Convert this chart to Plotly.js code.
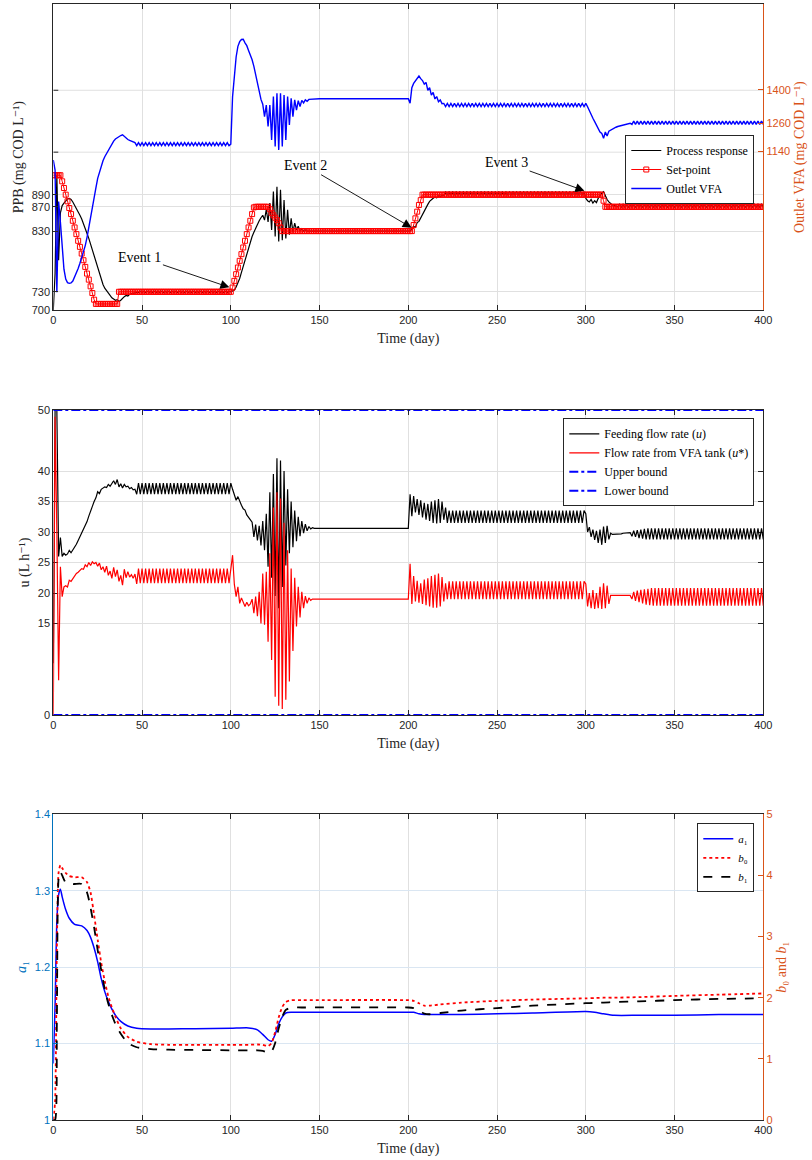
<!DOCTYPE html>
<html><head><meta charset="utf-8">
<script src="https://cdn.plot.ly/plotly-3.0.1.min.js"></script>
<style>html,body{margin:0;padding:0;background:#fff;} #chart{width:812px;height:1160px;}</style>
</head><body><div id="chart"></div>
<script>
// ---------------- DATA (daily samples, t = 0..400 day) ----------------
var xTickVals = [0, 50, 100, 150, 200, 250, 300, 350, 400];
var ppbTickVals = [700, 730, 830, 870, 890];
var ppbExtraGrid = [960, 1062];

// Panel 1: process response (PPB, left axis)
var ppbResp = [
700, 760, 922, 782, 860, 872, 876, 880, 883, 884,
882, 878, 873, 867, 861, 856, 850, 843, 836, 826,
818, 808, 798, 788, 779, 768, 759, 750, 742, 736,
732, 727, 724, 720, 718, 716, 717, 714, 716, 720,
722, 724, 723, 726, 727, 727, 728, 729, 729, 731,
729, 731, 729, 731, 729, 731, 729, 731, 729, 731,
729, 731, 729, 731, 729, 731, 729, 731, 729, 731,
729, 731, 729, 731, 729, 731, 729, 731, 729, 731,
729, 731, 729, 731, 729, 731, 729, 731, 729, 731,
729, 731, 729, 731, 729, 731, 729, 731, 729, 731,
730, 731, 733, 738, 744, 752, 762, 772, 783, 794,
805, 814, 821, 828, 835, 840, 847, 852, 856, 848,
866, 845, 876, 832, 895, 821, 903, 813, 898, 815,
881, 818, 865, 824, 851, 828, 843, 832, 838, 830,
834, 830, 832, 830, 830, 830, 830, 830, 830, 830,
830, 830, 830, 830, 830, 830, 830, 830, 830, 830,
830, 830, 830, 830, 830, 830, 830, 830, 830, 830,
830, 830, 830, 830, 830, 830, 830, 830, 830, 830,
830, 830, 830, 830, 830, 830, 830, 830, 830, 830,
830, 830, 830, 830, 830, 830, 830, 830, 830, 830,
830, 830, 834, 838, 836, 844, 846, 852, 856, 862,
868, 874, 879, 882, 884, 886, 885, 888, 887, 889,
889, 895, 889, 895, 889, 895, 889, 895, 889, 895,
889, 895, 889, 895, 889, 895, 889, 895, 889, 895,
889, 895, 889, 895, 889, 895, 889, 895, 889, 895,
889, 895, 889, 895, 889, 895, 889, 895, 889, 895,
889, 895, 889, 895, 889, 895, 889, 895, 889, 895,
889, 895, 889, 895, 889, 895, 889, 895, 889, 895,
889, 895, 889, 895, 889, 895, 889, 895, 889, 895,
889, 895, 889, 895, 889, 895, 889, 895, 889, 895,
884, 880, 878, 882, 876, 880, 877, 884, 889, 893,
895, 888, 882, 878, 875, 873, 872, 871, 870, 875,
869, 875, 869, 875, 869, 875, 869, 875, 869, 875,
869, 875, 869, 875, 869, 875, 869, 875, 869, 875,
869, 875, 869, 875, 869, 875, 869, 875, 869, 875,
869, 875, 869, 875, 869, 875, 869, 875, 869, 875,
869, 875, 869, 875, 869, 875, 869, 875, 869, 875,
869, 875, 869, 875, 869, 875, 869, 875, 869, 875,
869, 875, 869, 875, 869, 875, 869, 875, 869, 875,
869, 875, 869, 875, 869, 875, 869, 875, 869, 875,
869];

// Panel 1: set-point (PPB, left axis)
var ppbSet = [
922, 922, 922, 922, 922, 912, 901, 890, 879, 868,
858, 847, 836, 825, 814, 804, 793, 782, 771, 760,
750, 739, 728, 717, 710, 710, 710, 710, 710, 710,
710, 710, 710, 710, 710, 710, 710, 730, 730, 730,
730, 730, 730, 730, 730, 730, 730, 730, 730, 730,
730, 730, 730, 730, 730, 730, 730, 730, 730, 730,
730, 730, 730, 730, 730, 730, 730, 730, 730, 730,
730, 730, 730, 730, 730, 730, 730, 730, 730, 730,
730, 730, 730, 730, 730, 730, 730, 730, 730, 730,
730, 730, 730, 730, 730, 730, 730, 730, 730, 730,
730, 737, 748, 759, 770, 781, 792, 803, 814, 825,
836, 847, 858, 869, 870, 870, 870, 870, 870, 870,
870, 870, 866, 860, 856, 852, 848, 843, 836, 830,
830, 830, 830, 830, 830, 830, 830, 830, 830, 830,
830, 830, 830, 830, 830, 830, 830, 830, 830, 830,
830, 830, 830, 830, 830, 830, 830, 830, 830, 830,
830, 830, 830, 830, 830, 830, 830, 830, 830, 830,
830, 830, 830, 830, 830, 830, 830, 830, 830, 830,
830, 830, 830, 830, 830, 830, 830, 830, 830, 830,
830, 830, 830, 830, 830, 830, 830, 830, 830, 830,
830, 830, 830, 840, 851, 862, 873, 881, 890, 890,
890, 890, 890, 890, 890, 890, 890, 890, 890, 890,
890, 890, 890, 890, 890, 890, 890, 890, 890, 890,
890, 890, 890, 890, 890, 890, 890, 890, 890, 890,
890, 890, 890, 890, 890, 890, 890, 890, 890, 890,
890, 890, 890, 890, 890, 890, 890, 890, 890, 890,
890, 890, 890, 890, 890, 890, 890, 890, 890, 890,
890, 890, 890, 890, 890, 890, 890, 890, 890, 890,
890, 890, 890, 890, 890, 890, 890, 890, 890, 890,
890, 890, 890, 890, 890, 890, 890, 890, 890, 890,
890, 890, 890, 890, 890, 890, 890, 890, 890, 890,
880, 870, 870, 870, 870, 870, 870, 870, 870, 870,
870, 870, 870, 870, 870, 870, 870, 870, 870, 870,
870, 870, 870, 870, 870, 870, 870, 870, 870, 870,
870, 870, 870, 870, 870, 870, 870, 870, 870, 870,
870, 870, 870, 870, 870, 870, 870, 870, 870, 870,
870, 870, 870, 870, 870, 870, 870, 870, 870, 870,
870, 870, 870, 870, 870, 870, 870, 870, 870, 870,
870, 870, 870, 870, 870, 870, 870, 870, 870, 870,
870, 870, 870, 870, 870, 870, 870, 870, 870, 870,
870];

// Panel 1: outlet VFA (mg COD/L, right axis)
var outletVfa = [
1103, 1060, 542, 927, 840, 730, 640, 598, 583, 580,
582, 590, 606, 622, 643, 665, 688, 713, 740, 775,
820, 862, 900, 940, 985, 1025, 1052, 1075, 1100, 1117,
1130, 1145, 1160, 1172, 1183, 1192, 1198, 1203, 1207, 1210,
1202, 1195, 1190, 1186, 1183, 1180, 1177, 1164, 1177, 1164,
1177, 1164, 1177, 1164, 1177, 1164, 1177, 1164, 1177, 1164,
1177, 1164, 1177, 1164, 1177, 1164, 1177, 1164, 1177, 1164,
1177, 1164, 1177, 1164, 1177, 1164, 1177, 1164, 1177, 1164,
1177, 1164, 1177, 1164, 1177, 1164, 1177, 1164, 1177, 1164,
1177, 1164, 1177, 1164, 1177, 1164, 1177, 1164, 1177, 1164,
1170, 1372, 1470, 1540, 1585, 1605, 1614, 1615, 1600, 1588,
1568, 1550, 1528, 1500, 1465, 1420, 1396, 1360, 1340, 1287,
1336, 1245, 1336, 1188, 1372, 1160, 1386, 1146, 1386, 1160,
1379, 1188, 1372, 1252, 1365, 1287, 1358, 1315, 1355, 1330,
1356, 1345, 1358, 1352, 1360, 1361, 1362, 1363, 1363, 1363,
1363, 1363, 1363, 1363, 1363, 1363, 1363, 1363, 1363, 1363,
1363, 1363, 1363, 1363, 1363, 1363, 1363, 1363, 1363, 1363,
1363, 1363, 1363, 1363, 1363, 1363, 1363, 1363, 1363, 1363,
1363, 1363, 1363, 1363, 1363, 1363, 1363, 1363, 1363, 1363,
1363, 1363, 1363, 1363, 1363, 1363, 1363, 1363, 1363, 1363,
1363, 1344, 1410, 1428, 1440, 1452, 1459, 1448, 1440, 1425,
1432, 1398, 1410, 1378, 1390, 1362, 1372, 1350, 1358, 1342,
1343, 1330, 1343, 1330, 1343, 1330, 1343, 1330, 1343, 1330,
1343, 1330, 1343, 1330, 1343, 1330, 1343, 1330, 1343, 1330,
1343, 1330, 1343, 1330, 1343, 1330, 1343, 1330, 1343, 1330,
1343, 1330, 1343, 1330, 1343, 1330, 1343, 1330, 1343, 1330,
1343, 1330, 1343, 1330, 1343, 1330, 1343, 1330, 1343, 1330,
1343, 1330, 1343, 1330, 1343, 1330, 1343, 1330, 1343, 1330,
1343, 1330, 1343, 1330, 1343, 1330, 1343, 1330, 1343, 1330,
1343, 1330, 1343, 1330, 1343, 1330, 1343, 1330, 1343, 1330,
1343, 1329, 1310, 1294, 1280, 1266, 1250, 1238, 1222, 1216,
1195, 1222, 1205, 1225, 1230, 1234, 1238, 1242, 1245, 1247,
1250, 1252, 1254, 1256, 1258, 1259, 1254, 1268, 1254, 1268,
1254, 1268, 1254, 1268, 1254, 1268, 1254, 1268, 1254, 1268,
1254, 1268, 1254, 1268, 1254, 1268, 1254, 1268, 1254, 1268,
1254, 1268, 1254, 1268, 1254, 1268, 1254, 1268, 1254, 1268,
1254, 1268, 1254, 1268, 1254, 1268, 1254, 1268, 1254, 1268,
1254, 1268, 1254, 1268, 1254, 1268, 1254, 1268, 1254, 1268,
1254, 1268, 1254, 1268, 1254, 1268, 1254, 1268, 1254, 1268,
1254, 1268, 1254, 1268, 1254, 1268, 1254, 1268, 1254, 1268,
1254];

// Panel 2: feeding flow rate u (L/h)
var uFeed = [
8.5, 50, 50, 26.0, 29.1, 26.0, 26.5, 26.2, 26.4, 27.0,
26.6, 27.0, 27.5, 28.0, 28.6, 29.2, 29.9, 30.6, 31.0, 31.7,
32.6, 33.6, 34.2, 35.0, 35.6, 36.6, 36.3, 37.0, 37.2, 37.4,
37.3, 37.8, 37.5, 37.9, 38.4, 37.8, 38.6, 37.4, 37.9, 37.2,
37.8, 37.4, 37.5, 37.1, 37.3, 36.9, 37.0, 36.2, 38.0, 36.2,
38.0, 36.2, 38.0, 36.2, 38.0, 36.2, 38.0, 36.2, 38.0, 36.2,
38.0, 36.2, 38.0, 36.2, 38.0, 36.2, 38.0, 36.2, 38.0, 36.2,
38.0, 36.2, 38.0, 36.2, 38.0, 36.2, 38.0, 36.2, 38.0, 36.2,
38.0, 36.2, 38.0, 36.2, 38.0, 36.2, 38.0, 36.2, 38.0, 36.2,
38.0, 36.2, 38.0, 36.2, 38.0, 36.2, 38.0, 36.2, 38.0, 36.2,
38.0, 37.0, 36.0, 35.2, 35.8, 35.0, 34.4, 33.8, 33.6, 32.8,
32.4, 32.2, 31.6, 29.2, 31.2, 28.6, 31.0, 27.8, 31.8, 27.0,
33.0, 24.3, 36.5, 22.5, 39.5, 19.5, 42.1, 17.5, 41.7, 21.0,
40.0, 24.5, 37.0, 26.5, 35.0, 27.5, 33.5, 28.5, 32.5, 29.3,
31.8, 29.8, 31.3, 30.2, 30.9, 30.5, 30.7, 30.6, 30.6, 30.6,
30.6, 30.6, 30.6, 30.6, 30.6, 30.6, 30.6, 30.6, 30.6, 30.6,
30.6, 30.6, 30.6, 30.6, 30.6, 30.6, 30.6, 30.6, 30.6, 30.6,
30.6, 30.6, 30.6, 30.6, 30.6, 30.6, 30.6, 30.6, 30.6, 30.6,
30.6, 30.6, 30.6, 30.6, 30.6, 30.6, 30.6, 30.6, 30.6, 30.6,
30.6, 30.6, 30.6, 30.6, 30.6, 30.6, 30.6, 30.6, 30.6, 30.6,
30.6, 36.2, 32.6, 35.9, 33.2, 35.4, 32.8, 35.2, 32.4, 34.8,
32.0, 34.6, 31.8, 35.0, 31.5, 35.2, 31.4, 35.4, 31.5, 35.0,
32.0, 34.0, 31.5, 33.5, 31.5, 33.5, 31.5, 33.5, 31.5, 33.5,
31.5, 33.5, 31.5, 33.5, 31.5, 33.5, 31.5, 33.5, 31.5, 33.5,
31.5, 33.5, 31.5, 33.5, 31.5, 33.5, 31.5, 33.5, 31.5, 33.5,
31.5, 33.5, 31.5, 33.5, 31.5, 33.5, 31.5, 33.5, 31.5, 33.5,
31.5, 33.5, 31.5, 33.5, 31.5, 33.5, 31.5, 33.5, 31.5, 33.5,
31.5, 33.5, 31.5, 33.5, 31.5, 33.5, 31.5, 33.5, 31.5, 33.5,
31.5, 33.5, 31.5, 33.5, 31.5, 33.5, 31.5, 33.5, 31.5, 33.5,
31.5, 33.5, 31.5, 33.5, 31.5, 33.5, 31.5, 33.5, 31.5, 33.5,
33.0, 30.0, 30.8, 29.2, 30.4, 28.7, 30.2, 28.2, 30.4, 27.9,
30.9, 28.2, 31.0, 28.8, 29.8, 29.6, 29.6, 29.6, 29.7, 29.7,
29.7, 29.8, 29.8, 29.8, 29.9, 29.9, 29.3, 30.2, 29.2, 30.3,
29.0, 30.4, 28.9, 30.5, 28.8, 30.6, 28.8, 30.6, 28.8, 30.6,
28.8, 30.6, 28.8, 30.6, 28.8, 30.6, 28.8, 30.6, 28.8, 30.6,
28.8, 30.6, 28.8, 30.6, 28.8, 30.6, 28.8, 30.6, 28.8, 30.6,
28.8, 30.6, 28.8, 30.6, 28.8, 30.6, 28.8, 30.6, 28.8, 30.6,
28.8, 30.6, 28.8, 30.6, 28.8, 30.6, 28.8, 30.6, 28.8, 30.6,
28.8, 30.6, 28.8, 30.6, 28.8, 30.6, 28.8, 30.6, 28.8, 30.6,
28.8, 30.6, 28.8, 30.6, 28.8, 30.6, 28.8, 30.6, 28.8, 30.6,
28.8];

// Panel 2: flow rate from VFA tank u* (L/h)
var uVfaTank = [
0, 48.9, 30, 5.7, 24.3, 19.4, 21.0, 21.2, 21.0, 22.1,
21.9, 22.4, 22.8, 23.2, 23.4, 23.8, 24.0, 23.9, 24.6, 24.3,
25.0, 24.5, 25.1, 24.8, 25.0, 24.4, 24.9, 23.8, 24.3, 23.4,
24.4, 22.9, 23.6, 22.4, 24.2, 22.7, 23.8, 21.9, 22.9, 21.3,
23.9, 22.5, 23.5, 22.6, 23.0, 22.4, 23.1, 21.5, 24.0, 21.6,
24.0, 21.6, 24.0, 21.6, 24.0, 21.6, 24.0, 21.6, 24.0, 21.6,
24.0, 21.6, 24.0, 21.6, 24.0, 21.6, 24.0, 21.6, 24.0, 21.6,
24.0, 21.6, 24.0, 21.6, 24.0, 21.6, 24.0, 21.6, 24.0, 21.6,
24.0, 21.6, 24.0, 21.6, 24.0, 21.6, 24.0, 21.6, 24.0, 21.6,
24.0, 21.6, 24.0, 21.6, 24.0, 21.6, 24.0, 21.6, 24.0, 21.6,
24.0, 26.2, 21.4, 19.4, 21.0, 18.3, 19.2, 18.4, 17.8, 18.5,
17.9, 18.2, 19.0, 16.7, 19.4, 16.2, 20.2, 15.0, 23.2, 14.8,
23.5, 12.0, 26.5, 9.0, 34.0, 3.0, 36.5, 1.5, 35.5, 1.0,
31.5, 2.5, 27.0, 5.5, 24.0, 10.5, 22.5, 14.5, 21.0, 16.0,
20.2, 17.5, 19.5, 18.3, 19.2, 18.8, 19.0, 19.0, 19.0, 19.0,
19.0, 19.0, 19.0, 19.0, 19.0, 19.0, 19.0, 19.0, 19.0, 19.0,
19.0, 19.0, 19.0, 19.0, 19.0, 19.0, 19.0, 19.0, 19.0, 19.0,
19.0, 19.0, 19.0, 19.0, 19.0, 19.0, 19.0, 19.0, 19.0, 19.0,
19.0, 19.0, 19.0, 19.0, 19.0, 19.0, 19.0, 19.0, 19.0, 19.0,
19.0, 19.0, 19.0, 19.0, 19.0, 19.0, 19.0, 19.0, 19.0, 19.0,
19.0, 24.8, 18.2, 22.8, 18.6, 22.0, 18.4, 21.6, 18.2, 22.2,
18.0, 22.4, 17.8, 22.8, 17.6, 23.0, 17.6, 23.2, 17.8, 22.6,
18.6, 21.6, 19.0, 21.9, 19.0, 21.9, 19.0, 21.9, 19.0, 21.9,
19.0, 21.9, 19.0, 21.9, 19.0, 21.9, 19.0, 21.9, 19.0, 21.9,
19.0, 21.9, 19.0, 21.9, 19.0, 21.9, 19.0, 21.9, 19.0, 21.9,
19.0, 21.9, 19.0, 21.9, 19.0, 21.9, 19.0, 21.9, 19.0, 21.9,
19.0, 21.9, 19.0, 21.9, 19.0, 21.9, 19.0, 21.9, 19.0, 21.9,
19.0, 21.9, 19.0, 21.9, 19.0, 21.9, 19.0, 21.9, 19.0, 21.9,
19.0, 21.9, 19.0, 21.9, 19.0, 21.9, 19.0, 21.9, 19.0, 21.9,
19.0, 21.9, 19.0, 21.9, 19.0, 21.9, 19.0, 21.9, 19.0, 21.9,
21.5, 17.8, 20.0, 17.5, 20.5, 17.4, 20.0, 17.5, 21.0, 17.4,
21.6, 17.5, 21.2, 18.2, 19.6, 19.6, 19.6, 19.6, 19.6, 19.6,
19.6, 19.6, 19.6, 19.6, 19.6, 19.6, 19.0, 20.2, 18.7, 20.4,
18.5, 20.5, 18.3, 20.6, 18.1, 20.7, 18.0, 20.8, 17.9, 20.8,
17.9, 20.8, 17.9, 20.8, 17.9, 20.8, 17.9, 20.8, 17.9, 20.8,
17.9, 20.8, 17.9, 20.8, 17.9, 20.8, 17.9, 20.8, 17.9, 20.8,
17.9, 20.8, 17.9, 20.8, 17.9, 20.8, 17.9, 20.8, 17.9, 20.8,
17.9, 20.8, 17.9, 20.8, 17.9, 20.8, 17.9, 20.8, 17.9, 20.8,
17.9, 20.8, 17.9, 20.8, 17.9, 20.8, 17.9, 20.8, 17.9, 20.8,
17.9, 20.8, 17.9, 20.8, 17.9, 20.8, 17.9, 20.8, 17.9, 20.8,
17.9];

// Panel 2: bounds
var boundT = [0, 400];
var uUpper = [50, 50];
var uLower = [0, 0];

// Panel 3: estimated parameters
var paramT = [0, 1, 2, 3, 4, 5, 7, 9, 12, 16, 19, 21, 23, 25, 27, 29, 31, 33, 35, 38,
  42, 47, 55, 65, 80, 100, 110, 115, 118, 121, 123, 125, 127, 129, 131, 134, 140,
  200, 203, 206, 209, 212, 218, 230, 250, 270, 300, 305, 310, 316, 330, 350, 375, 400];
var a1 = [1.074, 1.15, 1.26, 1.295, 1.302, 1.292, 1.275, 1.264, 1.256, 1.254, 1.248, 1.239, 1.225, 1.207, 1.185, 1.168, 1.155, 1.145, 1.137, 1.129,
  1.123, 1.120, 1.119, 1.119, 1.1195, 1.120, 1.1205, 1.118, 1.112, 1.105, 1.103, 1.112, 1.126, 1.135, 1.140, 1.141, 1.141,
  1.141, 1.141, 1.139, 1.138, 1.138, 1.138, 1.138, 1.139, 1.140, 1.142, 1.141, 1.139, 1.137, 1.137, 1.137, 1.138, 1.138];
var b0 = [0, 0.3, 2.8, 4.05, 4.17, 4.12, 4.04, 3.99, 3.97, 3.97, 3.89, 3.72, 3.35, 2.95, 2.57, 2.27, 2.02, 1.84, 1.69, 1.50,
  1.36, 1.28, 1.24, 1.23, 1.23, 1.23, 1.23, 1.235, 1.23, 1.21, 1.26, 1.44, 1.68, 1.85, 1.93, 1.96, 1.96,
  1.96, 1.95, 1.91, 1.87, 1.87, 1.89, 1.92, 1.95, 1.97, 1.99, 1.995, 2.0, 2.0, 2.01, 2.03, 2.05, 2.07];
var b1 = [0, 0, 1.6, 3.95, 4.06, 4.0, 3.88, 3.86, 3.86, 3.86, 3.72, 3.47, 3.15, 2.78, 2.45, 2.14, 1.90, 1.72, 1.57, 1.41,
  1.26, 1.19, 1.16, 1.15, 1.145, 1.14, 1.14, 1.14, 1.13, 1.10, 1.12, 1.26, 1.50, 1.69, 1.80, 1.84, 1.84,
  1.84, 1.83, 1.79, 1.74, 1.73, 1.75, 1.79, 1.83, 1.87, 1.91, 1.915, 1.92, 1.93, 1.94, 1.96, 1.98, 1.99];

// ---------------- CHART ----------------
var days = ppbResp.map(function (_, i) { return i; });

var ORANGE = '#D95319', MBLUE = '#0072BD', AX = '#262626', GRID = '#e0e0e0', GRIDB = '#dae6f2';
var SERIF = 'Liberation Serif, DejaVu Serif, Times New Roman, serif';
var SANS = 'Liberation Sans, Arial, sans-serif';
var tickFont = {family: SANS, size: 11, color: AX};
var xDom = [53.3 / 812, 763.3 / 812];

function xAxis(anchor) {
  return {
    domain: xDom, anchor: anchor, range: [0, 400], tickvals: xTickVals,
    ticks: 'inside', ticklen: 5, tickwidth: 1, tickcolor: AX,
    showline: true, linecolor: AX, linewidth: 1, mirror: 'ticks',
    showgrid: true, gridcolor: GRID, gridwidth: 1, zeroline: false,
    tickfont: tickFont, automargin: false,
    title: {text: 'Time (day)', font: {family: SERIF, size: 14, color: AX}, standoff: 7}
  };
}

var traces = [
  {x: days, y: ppbResp, xaxis: 'x', yaxis: 'y', name: 'Process response', legend: 'legend',
   mode: 'lines', line: {color: '#000000', width: 1.2}},
  {x: days, y: ppbSet, xaxis: 'x', yaxis: 'y', name: 'Set-point', legend: 'legend',
   mode: 'lines+markers', line: {color: '#ff0000', width: 1},
   marker: {symbol: 'square-open', size: 5, color: '#ff0000', line: {width: 1, color: '#ff0000'}}},
  {x: days, y: outletVfa, xaxis: 'x', yaxis: 'y2', name: 'Outlet VFA', legend: 'legend',
   mode: 'lines', line: {color: '#0000ff', width: 1.4}},

  {x: days, y: uFeed, xaxis: 'x2', yaxis: 'y3', name: 'Feeding flow rate (<i>u</i>)', legend: 'legend2',
   mode: 'lines', line: {color: '#000000', width: 1.2}},
  {x: days, y: uVfaTank, xaxis: 'x2', yaxis: 'y3', name: 'Flow rate from VFA tank (<i>u</i>*)', legend: 'legend2',
   mode: 'lines', line: {color: '#ff0000', width: 1.2}},
  {x: boundT, y: uUpper, xaxis: 'x2', yaxis: 'y3', name: 'Upper bound', legend: 'legend2',
   mode: 'lines', line: {color: '#0000ff', width: 2, dash: 'dashdot'}},
  {x: boundT, y: uLower, xaxis: 'x2', yaxis: 'y3', name: 'Lower bound', legend: 'legend2',
   mode: 'lines', line: {color: '#0000ff', width: 2, dash: 'dashdot'}},

  {x: paramT, y: a1, xaxis: 'x3', yaxis: 'y4', name: '<i>a</i>\u2081', legend: 'legend3',
   mode: 'lines', line: {color: '#0000ff', width: 1.5, shape: 'spline', smoothing: 0.6}},
  {x: paramT, y: b0, xaxis: 'x3', yaxis: 'y5', name: '<i>b</i>\u2080', legend: 'legend3',
   mode: 'lines', line: {color: '#ff0000', width: 1.8, dash: 'dot', shape: 'spline', smoothing: 0.6}},
  {x: paramT, y: b1, xaxis: 'x3', yaxis: 'y5', name: '<i>b</i>\u2081', legend: 'legend3',
   mode: 'lines', line: {color: '#000000', width: 1.8, dash: 'dash', shape: 'spline', smoothing: 0.6}}
];

function legendBox(yTopPx, size) {
  return {x: 754.3 / 812, xanchor: 'right', y: 1 - yTopPx / 1160, yanchor: 'top',
    bgcolor: '#ffffff', bordercolor: AX, borderwidth: 1,
    font: {family: SERIF, size: size, color: '#000000'}, itemwidth: 30, tracegroupgap: 0,
    traceorder: 'normal'};
}

function eventAnn(text, tx, ty, hx, hy) {
  return {x: hx, y: hy, ax: tx, ay: ty, xref: 'x', yref: 'y', axref: 'x', ayref: 'y', text: text,
    showarrow: true, arrowhead: 2, arrowsize: 2, arrowwidth: 0.9, arrowcolor: '#000000', standoff: 0,
    font: {family: SERIF, size: 14, color: '#000000'}};
}

// extra horizontal grid lines + tick marks on the left PPB axis (unlabelled ticks)
var extraShapes = [];
ppbExtraGrid.forEach(function (v) {
  extraShapes.push({type: 'line', xref: 'x', yref: 'y', x0: 0, x1: 400, y0: v, y1: v,
    line: {color: GRID, width: 1}, layer: 'below'});
  extraShapes.push({type: 'line', xref: 'x', yref: 'y', x0: 0, x1: 2.8, y0: v, y1: v,
    line: {color: AX, width: 1}, layer: 'above'});
});

var layout = {
  width: 812, height: 1160, margin: {l: 0, r: 0, t: 0, b: 0},
  paper_bgcolor: '#ffffff', plot_bgcolor: '#ffffff', showlegend: true,
  xaxis: xAxis('y'),
  yaxis: {domain: [1 - 310 / 1160, 1 - 4.3 / 1160], anchor: 'x', range: [700, 1203.6],
    tickvals: ppbTickVals,
    ticks: 'inside', ticklen: 5, tickcolor: AX, showline: true, linecolor: AX, mirror: false,
    showgrid: true, gridcolor: GRID, zeroline: false, tickfont: tickFont, automargin: false,
    title: {text: 'PPB (mg COD L\u207B\u00B9)', font: {family: SERIF, size: 14, color: AX}, standoff: 4}},
  yaxis2: {overlaying: 'y', side: 'right', anchor: 'x', range: [467, 1763.4],
    tickvals: [1140, 1260, 1400], ticks: 'inside', ticklen: 5, tickcolor: ORANGE,
    showline: true, linecolor: ORANGE, showgrid: false, zeroline: false,
    tickfont: {family: SANS, size: 11, color: ORANGE}, automargin: false,
    title: {text: 'Outlet VFA (mg COD L\u207B\u00B9)', font: {family: SERIF, size: 14, color: ORANGE}, standoff: 4}},

  xaxis2: xAxis('y3'),
  yaxis3: {domain: [1 - 715 / 1160, 1 - 410 / 1160], anchor: 'x2', range: [0, 50],
    tickvals: [0, 15, 20, 25, 30, 35, 40, 50],
    ticks: 'inside', ticklen: 5, tickcolor: AX, showline: true, linecolor: AX, mirror: 'ticks',
    showgrid: true, gridcolor: GRID, zeroline: false, tickfont: tickFont, automargin: false, layer: 'below traces',
    title: {text: 'u (L h\u207B\u00B9)', font: {family: SERIF, size: 14, color: AX}, standoff: 4}},

  xaxis3: xAxis('y4'),
  yaxis4: {domain: [1 - 1120 / 1160, 1 - 814.3 / 1160], anchor: 'x3', range: [1, 1.4],
    tickvals: [1, 1.1, 1.2, 1.3, 1.4], ticktext: ['1', '1.1', '1.2', '1.3', '1.4'],
    ticks: 'inside', ticklen: 5, tickcolor: MBLUE, showline: true, linecolor: MBLUE, mirror: false,
    showgrid: true, gridcolor: GRIDB, zeroline: false,
    tickfont: {family: SANS, size: 11, color: MBLUE}, automargin: false,
    title: {text: '<i>a</i>\u2081', font: {family: SERIF, size: 14, color: MBLUE}, standoff: 4}},
  yaxis5: {overlaying: 'y4', side: 'right', anchor: 'x3', range: [0, 5],
    tickvals: [0, 1, 2, 3, 4, 5], ticks: 'inside', ticklen: 5, tickcolor: ORANGE,
    showline: true, linecolor: ORANGE, showgrid: false, zeroline: false,
    tickfont: {family: SANS, size: 11, color: ORANGE}, automargin: false,
    title: {text: '<i>b</i>\u2080 and <i>b</i>\u2081', font: {family: SERIF, size: 14, color: ORANGE}, standoff: 4}},

  legend: legendBox(135, 12),
  legend2: legendBox(418.3, 12),
  legend3: legendBox(823.3, 11),

  shapes: extraShapes,
  annotations: [
    eventAnn('Event 1', 48.8, 787.3, 99.2, 737.4),
    eventAnn('Event 2', 142.2, 937.7, 201.9, 835.6),
    eventAnn('Event 3', 255.4, 942.7, 299.2, 896.5)
  ]
};

Plotly.newPlot('chart', traces, layout, {displayModeBar: false, responsive: false});
</script></body></html>
